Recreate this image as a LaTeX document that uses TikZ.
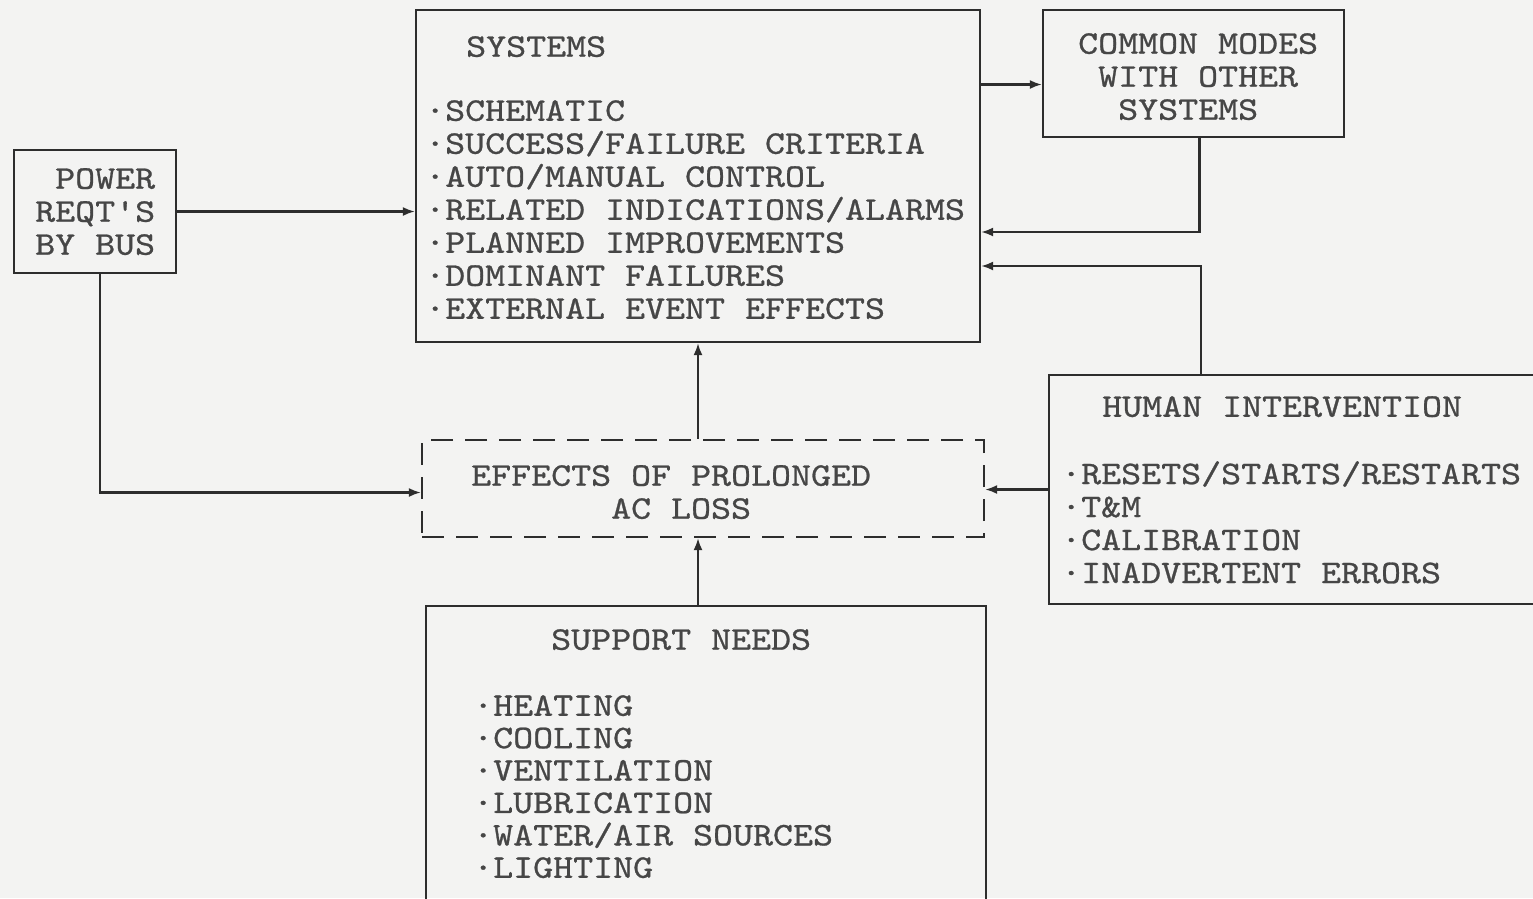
\documentclass[tikz,border=0pt]{standalone}
\usepackage{fontspec}
\usetikzlibrary{arrows.meta}
\newfontfamily\typefam{lmmono10-regular.otf}[FakeStretch=1.154,FakeBold=0.8]
\definecolor{paper}{RGB}{243,243,242}
\definecolor{ink}{RGB}{45,45,45}
\definecolor{inkt}{RGB}{70,70,70}
\newcommand{\typew}{\typefam\fontsize{33}{33}\selectfont}
\newcommand{\typews}{\typefam\fontsize{33}{32.4}\selectfont}
\tikzset{
  blok/.style={draw=ink, line width=2.2pt, inner sep=0pt},
  dblok/.style={blok, dash pattern=on 22pt off 12pt},
  txt/.style={inner sep=0pt, anchor=north west, align=left, text=inkt, font=\typew},
  arr/.style={draw=ink, line width=2.2pt, -{Latex[length=12pt,width=9pt]}}
}
\begin{document}
\begin{tikzpicture}[x=1pt,y=-1pt]
    \fill[paper] (0,0) rectangle (1533,898);
    \useasboundingbox (0,0) rectangle (1533,898);
    \clip (0,0) rectangle (1533,898);
    % boxes
    \node[blok, minimum width=564pt, minimum height=332pt] (sys) at (698,176) {};
    \node[blok, minimum width=301pt, minimum height=127pt] (cmn) at (1193.5,73.5) {};
    \node[blok, minimum width=162pt, minimum height=123pt] (pwr) at (95,211.5) {};
    \node[dblok, minimum width=562pt, minimum height=97pt] (eff) at (703,488.5) {};
    \node[blok, minimum width=496pt, minimum height=229pt] (hum) at (1297,489.5) {};
    \node[blok, minimum width=560pt, minimum height=299pt] (sup) at (706,755.5) {};
    % texts
    \node[txt] (syshd) at (466,36) {SYSTEMS};
    \node[txt] (sysls) at (425,100) {·SCHEMATIC\\·SUCCESS/FAILURE CRITERIA\\·AUTO/MANUAL CONTROL\\·RELATED INDICATIONS/ALARMS\\·PLANNED IMPROVEMENTS\\·DOMINANT FAILURES\\·EXTERNAL EVENT EFFECTS};
    \node[txt] (cmntx) at (1078,33) {COMMON MODES\\\phantom{X}WITH OTHER\\\phantom{XX}SYSTEMS};
    \node[txt] (pwrtx) at (35,168) {\phantom{X}POWER\\REQT'S\\BY BUS};
    \node[txt] (efftx) at (471,465) {EFFECTS OF PROLONGED\\\phantom{XXXXXXX}AC LOSS};
    \node[txt] (humhd) at (1102,396) {HUMAN INTERVENTION};
    \node[txt] (humls) at (1061,461) {·RESETS/STARTS/RESTARTS\\·T\&M\\·CALIBRATION\\·INADVERTENT ERRORS};
    \node[txt] (suphd) at (551,629) {SUPPORT NEEDS};
    \node[txt, font=\typews] (supls) at (473,695) {·HEATING\\·COOLING\\·VENTILATION\\·LUBRICATION\\·WATER/AIR SOURCES\\·LIGHTING};
    % connectors
    \draw[arr] (pwr.east) -- (pwr.east -| sys.west);
    \draw[arr] ([xshift=5pt]pwr.south) |- ([yshift=-4pt]eff.west);
    \draw[arr] ([yshift=-11pt]cmn.west -| sys.east) -- ([yshift=-11pt]cmn.west);
    \draw[arr] ([xshift=6pt]cmn.south) |- ([yshift=-56pt]sys.east);
    \draw[arr] ([xshift=-96pt]hum.north) |- ([yshift=-90pt]sys.east);
    \draw[arr] (hum.west) -- (hum.west -| eff.east);
    \draw[arr] (sys.south |- eff.north) -- (sys.south);
    \draw[arr] (sys.south |- sup.north) -- (sys.south |- eff.south);
\end{tikzpicture}
\end{document}
